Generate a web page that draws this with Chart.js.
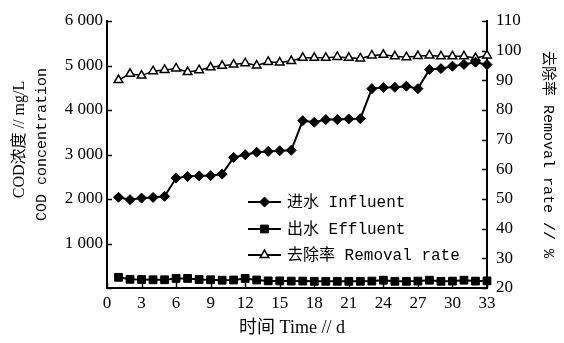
<!DOCTYPE html>
<html><head><meta charset="utf-8">
<script src="https://cdn.jsdelivr.net/npm/chart.js@4.4.0/dist/chart.umd.min.js"></script>
<style>html,body{margin:0;padding:0;background:#fff}</style>
</head><body>
<canvas id="c" width="564" height="343" style="width:564px;height:343px;display:block"></canvas>
<script>
// ---- data ----
const days = [1,2,3,4,5,6,7,8,9,10,11,12,13,14,15,16,17,18,19,20,21,22,23,24,25,26,27,28,29,30,31,32,33];
const influent = [2040,1985,2020,2035,2060,2470,2505,2520,2525,2560,2935,2995,3050,3070,3085,3095,3760,3725,3785,3785,3800,3805,4480,4505,4510,4535,4480,4910,4930,4985,5025,5075,5020];
const effluent = [240,195,190,185,185,215,215,190,185,175,180,215,180,160,160,155,155,150,150,150,150,150,155,175,150,150,155,175,150,155,175,155,160];
const removal = [90.1,92.2,91.6,93.1,93.5,94.0,92.8,93.4,94.4,94.9,95.3,95.8,95.0,96.2,96.0,96.5,97.6,97.6,97.6,97.9,97.6,97.4,98.4,98.6,98.1,97.8,98.2,98.4,98.1,98.1,98.1,97.5,98.4];
const xTicks = [0,3,6,9,12,15,18,21,24,27,30,33];
const legendLabels = ['进水 Influent','出水 Effluent','去除率 Removal rate'];
const leftTitle = ['COD浓度 // mg/L','COD concentration'];
const rightTitle = '去除率 Removal rate // %';
const xTitle = '时间 Time // d';

const SERIF = "'Liberation Serif','Noto Sans CJK SC',serif";
const MONO = "'Liberation Mono','Noto Sans CJK SC',monospace";

function pts(arr){ return arr.map((v,i)=>({x:days[i], y:v})); }

const styles = [
  {pointStyle:'rectRot', pointRadius:5, bg:'#000', bw:1},
  {pointStyle:'rect', pointRadius:5.5, bg:'#000', bw:1},
  {pointStyle:'triangle', pointRadius:5, bg:'#fff', bw:1.5}
];

const inwardTicks = {
  id:'inwardTicks',
  afterDraw(chart){
    const ctx = chart.ctx, a = chart.chartArea, L = 5;
    ctx.save(); ctx.strokeStyle='#000'; ctx.lineWidth=1.5;
    const sx = chart.scales.x;
    sx.ticks.forEach(t=>{ const px = Math.round(sx.getPixelForValue(t.value))+0.5;
      ctx.beginPath(); ctx.moveTo(px, a.bottom); ctx.lineTo(px, a.bottom-L); ctx.stroke(); });
    const sy = chart.scales.y;
    sy.ticks.forEach(t=>{ const py = Math.round(sy.getPixelForValue(t.value))+0.5;
      ctx.beginPath(); ctx.moveTo(a.left, py); ctx.lineTo(a.left+L, py); ctx.stroke(); });
    const sy1 = chart.scales.y1;
    sy1.ticks.forEach(t=>{ const py = Math.round(sy1.getPixelForValue(t.value))+0.5;
      ctx.beginPath(); ctx.moveTo(a.right, py); ctx.lineTo(a.right-L, py); ctx.stroke(); });
    ctx.restore();
  }
};

function drawMarker(ctx, style, x, y, r, bg, bw){
  ctx.save(); ctx.fillStyle=bg; ctx.strokeStyle='#000'; ctx.lineWidth=bw;
  ctx.beginPath();
  if(style==='rectRot'){ ctx.moveTo(x-r,y); ctx.lineTo(x,y-r); ctx.lineTo(x+r,y); ctx.lineTo(x,y+r); ctx.closePath(); }
  else if(style==='rect'){ const s=r*Math.SQRT1_2; ctx.rect(x-s,y-s,2*s,2*s); }
  else { const h=Math.sin(Math.PI/3)*r; ctx.moveTo(x,y-r); ctx.lineTo(x+h,y+r/2); ctx.lineTo(x-h,y+r/2); ctx.closePath(); }
  ctx.fill(); ctx.stroke(); ctx.restore();
}

const textPlugin = {
  id:'textPlugin',
  afterDraw(chart){
    const ctx = chart.ctx, a = chart.chartArea;
    ctx.save(); ctx.fillStyle='#000'; ctx.textBaseline='middle'; ctx.textAlign='center';
    const cy = (a.top+a.bottom)/2;
    // left titles
    ctx.save(); ctx.translate(20, cy-15); ctx.rotate(-Math.PI/2);
    ctx.font = "16px "+SERIF; ctx.fillText(leftTitle[0],0,0); ctx.restore();
    ctx.save(); ctx.translate(42, cy-10); ctx.rotate(-Math.PI/2);
    ctx.font = "15px "+MONO; ctx.fillText(leftTitle[1],0,0); ctx.restore();
    // right title
    ctx.save(); ctx.translate(548, cy); ctx.rotate(Math.PI/2);
    ctx.font = "15px "+MONO; ctx.fillText(rightTitle,0,0); ctx.restore();
    // x title
    ctx.font = "18px "+SERIF; ctx.fillText(xTitle, 292, 328);
    // legend
    const rows=[202,229,255];
    ctx.textAlign='left';
    legendLabels.forEach((lab,i)=>{
      const y=rows[i], st=styles[i];
      ctx.save(); ctx.strokeStyle='#000'; ctx.lineWidth=2;
      ctx.beginPath(); ctx.moveTo(248,y); ctx.lineTo(281,y); ctx.stroke(); ctx.restore();
      drawMarker(ctx, st.pointStyle, 264.5, y, st.pointRadius, st.bg, st.bw);
      ctx.font = "16px "+MONO; ctx.fillText(lab, 287, y+1);
    });
    ctx.restore();
  }
};

const tickFont = {family:SERIF, size:17};
function fmt(v){ if(v===0) return ''; const s=String(v); return s.length>3 ? s.slice(0,s.length-3)+' '+s.slice(-3) : s; }

new Chart(document.getElementById('c'), {
  type:'line',
  data:{ datasets:[
    {label:legendLabels[0], data:pts(influent), yAxisID:'y', borderColor:'#000', borderWidth:2,
     pointStyle:styles[0].pointStyle, pointRadius:styles[0].pointRadius, pointBackgroundColor:styles[0].bg, pointBorderColor:'#000', pointBorderWidth:styles[0].bw, clip:false},
    {label:legendLabels[1], data:pts(effluent), yAxisID:'y', borderColor:'#000', borderWidth:2,
     pointStyle:styles[1].pointStyle, pointRadius:styles[1].pointRadius, pointBackgroundColor:styles[1].bg, pointBorderColor:'#000', pointBorderWidth:styles[1].bw, clip:false},
    {label:legendLabels[2], data:pts(removal), yAxisID:'y1', borderColor:'#000', borderWidth:1.5,
     pointStyle:styles[2].pointStyle, pointRadius:styles[2].pointRadius, pointBackgroundColor:styles[2].bg, pointBorderColor:'#000', pointBorderWidth:styles[2].bw, clip:false}
  ]},
  options:{
    responsive:false, animation:false, devicePixelRatio:1,
    layout:{padding:{top:21,left:0,right:0,bottom:0}},
    plugins:{legend:{display:false}, tooltip:{enabled:false}},
    elements:{line:{tension:0}},
    scales:{
      x:{type:'linear', position:'bottom', min:0, max:33,
         afterBuildTicks:s=>{ s.ticks = xTicks.map(v=>({value:v})); },
         ticks:{font:tickFont, color:'#000', padding:5, maxRotation:0, autoSkip:false},
         grid:{display:false, drawTicks:false, tickLength:0}, border:{display:true, color:'#000', width:2},
         afterFit:s=>{ s.height = 55; }},
      y:{position:'left', min:0, max:6000,
         ticks:{stepSize:1000, font:tickFont, color:'#000', padding:4, callback:v=>fmt(v)},
         grid:{display:false, drawTicks:false, tickLength:0}, border:{display:true, color:'#000', width:2},
         afterFit:s=>{ s.width = 107; }},
      y1:{position:'right', min:20, max:110,
         ticks:{stepSize:10, font:tickFont, color:'#000', padding:9},
         grid:{display:false, drawTicks:false, tickLength:0}, border:{display:true, color:'#000', width:2},
         afterFit:s=>{ s.width = 77; }}
    }
  },
  plugins:[inwardTicks, textPlugin]
});
</script>
</body></html>
